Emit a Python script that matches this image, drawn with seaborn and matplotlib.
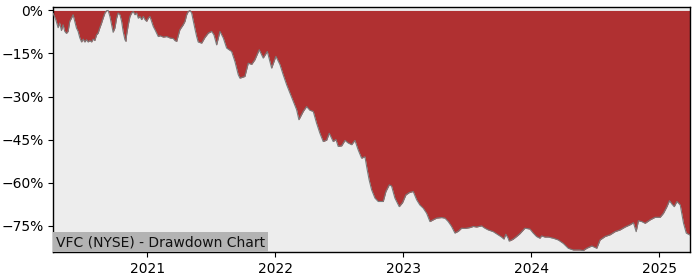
import matplotlib
matplotlib.use("Agg")
import matplotlib.pyplot as plt
import matplotlib.dates as mdates
import matplotlib.ticker as mticker
import numpy as np
import pandas as pd
import seaborn as sns

# Dates as decimal years, drawdown in percent
decimal_years = [
    2020.267, 2020.271, 2020.287, 2020.305, 2020.318, 2020.331, 2020.344, 2020.357, 2020.370, 2020.383,
    2020.396, 2020.409, 2020.422, 2020.435, 2020.448, 2020.461, 2020.474, 2020.488, 2020.500, 2020.513,
    2020.527, 2020.539, 2020.552, 2020.566, 2020.578, 2020.591, 2020.605, 2020.617, 2020.630, 2020.644,
    2020.656, 2020.670, 2020.683, 2020.695, 2020.709, 2020.722, 2020.734, 2020.748, 2020.761, 2020.773,
    2020.787, 2020.800, 2020.812, 2020.826, 2020.834, 2020.839, 2020.852, 2020.865, 2020.878, 2020.891,
    2020.904, 2020.917, 2020.930, 2020.943, 2020.956, 2020.969, 2020.982, 2020.995, 2021.008, 2021.021,
    2021.034, 2021.047, 2021.060, 2021.073, 2021.086, 2021.099, 2021.125, 2021.152, 2021.177, 2021.203,
    2021.216, 2021.230, 2021.240, 2021.255, 2021.281, 2021.295, 2021.308, 2021.320, 2021.334, 2021.347,
    2021.359, 2021.373, 2021.386, 2021.398, 2021.425, 2021.451, 2021.477, 2021.503, 2021.521, 2021.542,
    2021.568, 2021.594, 2021.620, 2021.659, 2021.685, 2021.711, 2021.724, 2021.744, 2021.763, 2021.789,
    2021.816, 2021.841, 2021.875, 2021.906, 2021.938, 2021.972, 2022.005, 2022.037, 2022.062, 2022.089,
    2022.115, 2022.141, 2022.167, 2022.185, 2022.219, 2022.245, 2022.271, 2022.297, 2022.323, 2022.349,
    2022.375, 2022.402, 2022.422, 2022.453, 2022.474, 2022.492, 2022.519, 2022.545, 2022.570, 2022.597,
    2022.623, 2022.648, 2022.675, 2022.701, 2022.719, 2022.734, 2022.753, 2022.779, 2022.805, 2022.844,
    2022.865, 2022.891, 2022.909, 2022.935, 2022.969, 2022.995, 2023.021, 2023.047, 2023.078, 2023.105,
    2023.130, 2023.156, 2023.183, 2023.209, 2023.234, 2023.261, 2023.300, 2023.326, 2023.352, 2023.378,
    2023.404, 2023.430, 2023.456, 2023.482, 2023.521, 2023.547, 2023.573, 2023.612, 2023.638, 2023.664,
    2023.703, 2023.742, 2023.769, 2023.787, 2023.802, 2023.820, 2023.828, 2023.857, 2023.886, 2023.912,
    2023.951, 2023.990, 2024.016, 2024.042, 2024.068, 2024.081, 2024.107, 2024.133, 2024.172, 2024.211,
    2024.250, 2024.289, 2024.328, 2024.380, 2024.406, 2024.433, 2024.472, 2024.511, 2024.537, 2024.576,
    2024.615, 2024.654, 2024.693, 2024.732, 2024.771, 2024.797, 2024.818, 2024.836, 2024.862, 2024.888,
    2024.927, 2024.966, 2025.005, 2025.031, 2025.058, 2025.078, 2025.097, 2025.115, 2025.136, 2025.162,
    2025.188, 2025.209, 2025.234, 2025.240,
]
drawdown_pct = [
    -1.0, -1.5, -3.2, -6.0, -4.4, -7.0, -5.0, -7.3, -8.0, -7.3,
    -3.8, -2.7, -1.5, -3.8, -6.1, -7.3, -9.5, -11.0, -10.0, -11.0,
    -10.2, -11.0, -10.5, -11.0, -10.0, -10.5, -8.5, -7.9, -6.1, -4.4,
    -2.7, -0.9, -0.1, 0.0, -2.1, -5.0, -7.6, -6.1, -2.7, -0.9,
    -1.5, -3.8, -7.3, -10.2, -10.8, -8.5, -5.0, -2.1, -0.9, -0.4,
    -1.5, -0.9, -2.7, -2.1, -3.2, -2.1, -3.2, -3.8, -2.7, -2.1,
    -3.8, -5.6, -6.7, -7.9, -9.1, -8.8, -9.3, -9.1, -9.6, -9.8,
    -10.5, -10.8, -9.1, -6.7, -5.0, -3.8, -1.5, -0.4, 0.0, -0.9,
    -3.5, -6.5, -9.1, -11.0, -11.4, -9.4, -7.9, -7.3, -8.5, -12.0,
    -7.3, -9.6, -13.1, -14.3, -17.8, -22.4, -23.6, -23.3, -23.0, -18.4,
    -18.8, -17.2, -13.7, -16.6, -14.3, -20.1, -16.0, -18.9, -22.4, -25.9,
    -28.8, -31.7, -34.6, -38.1, -35.2, -33.5, -34.8, -35.2, -39.3, -42.8,
    -45.7, -45.2, -42.8, -45.7, -45.0, -47.4, -47.2, -45.3, -46.2, -46.8,
    -45.3, -48.6, -51.5, -51.0, -55.6, -59.1, -62.5, -65.4, -66.6, -66.6,
    -63.1, -60.8, -61.2, -65.4, -68.4, -67.0, -64.3, -63.5, -63.1, -66.0,
    -67.8, -68.9, -70.7, -73.6, -73.0, -72.4, -72.2, -72.4, -73.6, -75.3,
    -77.6, -77.0, -75.9, -76.0, -75.7, -75.3, -75.5, -75.1, -75.9, -76.5,
    -77.1, -78.2, -79.0, -79.7, -78.0, -79.4, -80.4, -79.8, -78.8, -77.8,
    -75.9, -76.2, -77.6, -78.8, -79.4, -78.6, -79.0, -79.0, -79.4, -80.0,
    -81.2, -82.9, -83.5, -83.5, -83.7, -82.9, -82.1, -82.9, -80.0, -78.8,
    -78.2, -77.1, -76.5, -75.5, -74.7, -74.0, -77.1, -73.3, -73.6, -74.2,
    -73.0, -72.1, -72.1, -70.7, -68.4, -66.3, -67.5, -68.4, -66.6, -67.8,
    -74.2, -77.6, -78.2, -78.4,
]
y_ticks = [0, -15, -30, -45, -60, -75]
title_label = "VFC (NYSE) - Drawdown Chart"


def to_datetime(d):
    year = int(np.floor(d))
    start = pd.Timestamp(year=year, month=1, day=1)
    end = pd.Timestamp(year=year + 1, month=1, day=1)
    return start + (end - start) * (d - year)


df = pd.DataFrame({
    "date": [to_datetime(d) for d in decimal_years],
    "drawdown": drawdown_pct,
})

sns.set_style("white")
plt.rcParams["font.family"] = ["DejaVu Sans"]

fig = plt.figure(figsize=(7, 2.8), dpi=100)
ax = fig.add_axes([0.076, 0.099, 0.91, 0.876])
ax.set_facecolor("#ededed")

ax.fill_between(df["date"], df["drawdown"], 0, color="#b03031", linewidth=0, zorder=2)
sns.lineplot(data=df, x="date", y="drawdown", ax=ax, color="#7a7a7a", linewidth=0.8, zorder=3)

ax.set_xlim(df["date"].iloc[0], df["date"].iloc[-1])
ax.set_ylim(-84.3, 1.2)
ax.set_yticks(y_ticks)
ax.yaxis.set_major_formatter(mticker.PercentFormatter(decimals=0))
ax.xaxis.set_major_locator(mdates.YearLocator())
ax.xaxis.set_major_formatter(mdates.DateFormatter("%Y"))
ax.set_xlabel("")
ax.set_ylabel("")
ax.tick_params(axis="both", which="major", length=3.5, width=0.8, color="black",
               labelsize=10, labelcolor="black", left=True, bottom=True)
for s in ax.spines.values():
    s.set_visible(True)
    s.set_color("black")
    s.set_linewidth(1.0)
ax.grid(False)

ax.annotate(title_label, xy=(0, 0), xycoords="axes fraction",
            xytext=(2, 2.2), textcoords="offset points", ha="left", va="bottom",
            fontsize=10, color="#111111", zorder=5,
            bbox=dict(boxstyle="square,pad=0.2", fc="#b3b3b3", ec="none"))

fig.savefig("out.png", dpi=100)
